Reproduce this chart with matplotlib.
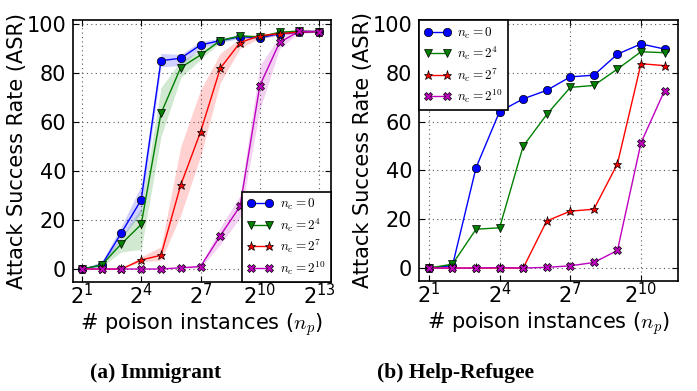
import matplotlib
matplotlib.use("Agg")
import matplotlib.pyplot as plt
from matplotlib.font_manager import FontProperties
from matplotlib.ticker import FixedLocator, LogFormatterMathtext, NullLocator

# --- data: (a) Immigrant ---
exp_a = [1, 2, 3, 4, 5, 6, 7, 8, 9, 10, 11, 12, 13]
asr_a_0 = [0, 1.6, 14.8, 28.2, 85, 86, 91.4, 93.2, 94.8, 94.4, 96.0, 96.6, 96.9]
asr_a_4 = [0, 1.6, 10.3, 18.2, 63.5, 82.2, 87.3, 93.2, 95.1, 94.7, 96.6, 97.1, 96.9]
asr_a_7 = [0, 0, 0, 3.7, 5.6, 34.3, 55.9, 81.9, 92.4, 95.2, 96.0, 96.7, 96.9]
asr_a_10 = [0, 0, 0, 0, 0, 0.5, 1.0, 13.6, 25.6, 74.8, 92.5, 97.0, 96.9]

lo_a_0 = [0, 1, 12.5, 23, 82.5, 83, 90, 92.5, 94, 93.8, 95.5, 96.2, 96.6]
hi_a_0 = [0, 3, 17.5, 34, 88, 87.5, 93, 94, 95.5, 95, 96.5, 97, 97.2]
lo_a_4 = [0, 1, 7, 8, 54, 78, 85.5, 92.5, 94.5, 94, 96, 96.8, 96.6]
hi_a_4 = [0, 3, 13, 25, 74, 85, 89, 94, 95.6, 95.4, 97.1, 97.5, 97.2]
lo_a_7 = [0, 0, 0, 3, 3.5, 22, 46, 76, 90, 94.3, 95.5, 96.3, 96.6]
hi_a_7 = [0, 0, 0, 5, 9, 50, 73, 88, 94, 96, 96.5, 97, 97.2]
lo_a_10 = [0, 0, 0, 0, 0, 0.2, 0.5, 10, 21, 65, 90, 96.5, 96.6]
hi_a_10 = [0, 0, 0, 0, 0, 0.8, 1.5, 17, 30, 83, 95, 97.5, 97.2]

# --- data: (b) Help-Refugee ---
exp_b = [1, 2, 3, 4, 5, 6, 7, 8, 9, 10, 11]
asr_b_0 = [0, 1.0, 41.1, 64.1, 69.3, 72.8, 78.3, 79.0, 87.6, 91.8, 89.7]
asr_b_4 = [0, 1.6, 15.9, 16.5, 49.9, 62.9, 74.0, 74.8, 81.5, 88.6, 88.2]
asr_b_7 = [0, 0, 0, 0, 0, 19.3, 23.3, 24.1, 42.7, 83.7, 82.9]
asr_b_10 = [0, 0, 0, 0.2, 0, 0.3, 0.9, 2.3, 7.2, 51.3, 72.7]

labels = [r"$n_c = 0$", r"$n_c = 2^4$", r"$n_c = 2^7$", r"$n_c = 2^{10}$"]
colors = ["b", "g", "r", "m"]
markers = ["o", "v", "*", "X"]
msizes = [6, 6, 6.5, 5.5]

xticks = [1, 4, 7, 10, 13]

plt.rcParams["font.family"] = "DejaVu Sans"
plt.rcParams["mathtext.fontset"] = "dejavusans"

fig = plt.figure(figsize=(6.97, 3.91), dpi=100)
ax1 = fig.add_axes([73 / 697, 1 - 282 / 391, 258 / 697, 262 / 391])
ax2 = fig.add_axes([419 / 697, 1 - 281 / 391, 259 / 697, 261 / 391])


def style_axes(ax, xmin_exp, xmax_exp, ticks):
    ax.set_xscale("log", base=2)
    ax.set_xlim(2 ** xmin_exp, 2 ** xmax_exp)
    ax.set_ylim(-5.3, 101.6)
    ax.xaxis.set_major_locator(FixedLocator([2 ** t for t in ticks]))
    ax.xaxis.set_major_formatter(LogFormatterMathtext(base=2))
    ax.xaxis.set_minor_locator(NullLocator())
    ax.set_yticks([0, 20, 40, 60, 80, 100])
    ax.tick_params(direction="in", top=True, right=True, labelsize=15, length=4)
    ax.tick_params(axis="y", pad=5)
    ax.tick_params(axis="x", pad=1)
    ax.grid(True, linestyle=(0, (1, 3)), color="0.35", linewidth=0.8)
    ax.set_axisbelow(True)
    for s in ax.spines.values():
        s.set_linewidth(1.2)
    ax.set_ylabel("Attack Success Rate (ASR)", fontsize=15, labelpad=-0.5)
    ax.set_xlabel(r"# poison instances ($n_p$)", labelpad=2,
                  fontproperties=FontProperties(size=15, math_fontfamily="cm"))


leg_kw = dict(prop=FontProperties(size=9.5, math_fontfamily="cm"), numpoints=2,
              handlelength=2.0, handletextpad=0.5, borderaxespad=0, fancybox=False,
              edgecolor="black", framealpha=1, labelspacing=0.3, borderpad=0.4)

# (a) Immigrant
series_a = [asr_a_0, asr_a_4, asr_a_7, asr_a_10]
lows_a = [lo_a_0, lo_a_4, lo_a_7, lo_a_10]
highs_a = [hi_a_0, hi_a_4, hi_a_7, hi_a_10]
xa = [2 ** e for e in exp_a]
for y, lo, hi, c, m, ms, lab in zip(series_a, lows_a, highs_a, colors, markers, msizes, labels):
    ax1.fill_between(xa, lo, hi, color=c, alpha=0.18, linewidth=0)
    ax1.plot(xa, y, color=c, marker=m, markersize=ms, markeredgecolor="black",
             markeredgewidth=0.5, linewidth=1.0, label=lab)
style_axes(ax1, 0.55, 13.6, xticks)
leg1 = ax1.legend(loc="lower right", **leg_kw)
leg1.get_frame().set_linewidth(1.2)

# (b) Help-Refugee
series_b = [asr_b_0, asr_b_4, asr_b_7, asr_b_10]
xb = [2 ** e for e in exp_b]
for y, c, m, ms, lab in zip(series_b, colors, markers, msizes, labels):
    ax2.plot(xb, y, color=c, marker=m, markersize=ms, markeredgecolor="black",
             markeredgewidth=0.5, linewidth=1.0, label=lab)
style_axes(ax2, 0.58, 11.57, xticks[:4])
leg2 = ax2.legend(loc="upper left", **leg_kw)
leg2.get_frame().set_linewidth(1.2)

cap_font = dict(family="Liberation Serif", fontweight="bold", fontsize=15.5)
fig.text(156 / 697, 1 - 378 / 391, "(a) Immigrant", ha="center", va="baseline", **cap_font)
fig.text(456 / 697, 1 - 378 / 391, "(b) Help-Refugee", ha="center", va="baseline", **cap_font)

fig.savefig("out.png", dpi=100, facecolor="white")
